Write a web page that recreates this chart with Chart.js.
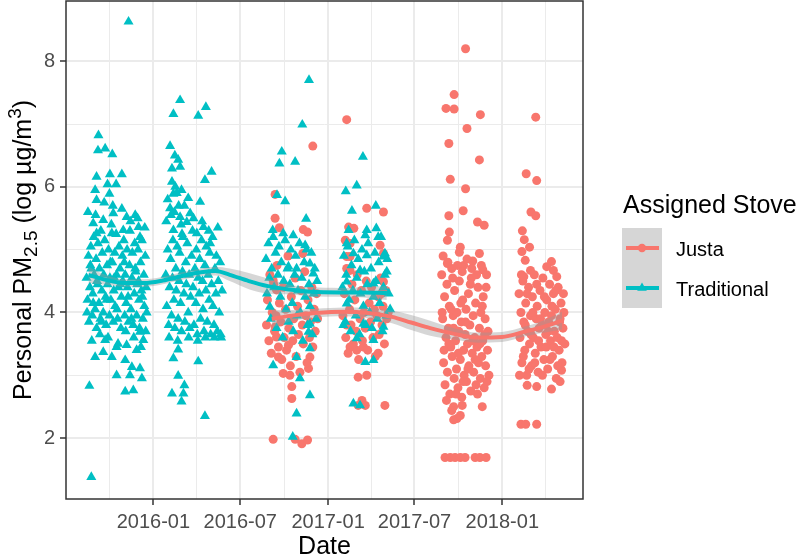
<!DOCTYPE html>
<html>
<head>
<meta charset="utf-8">
<script src="https://cdn.jsdelivr.net/npm/chart.js@4.4.1/dist/chart.umd.min.js"></script>
<style>
body { margin: 0; background: #fff; }
canvas { display: block; }
</style>
</head>
<body>
<canvas id="pmChart" width="800" height="557"></canvas>
<script>
// x values are days since 2016-01-01, y values are log PM2.5
var majorDays = [0, 182, 366, 547, 731];
var majorLabels = ['2016-01', '2016-07', '2017-01', '2017-07', '2018-01'];
var minorDays = [-92, 91, 274, 456, 639, 822];
var majorPM = [2, 4, 6, 8];
var minorPM = [3, 5, 7];

var traditional = [
  // visit 1 (2015)
  [-52,8.63],[-115,6.82],[-116,6.58],[-101,6.61],[-86,6.52],[-119,6.16],[-91,6.20],[-66,6.20],[-96,6.04],[-78,6.04],
  [-122,5.95],[-119,5.79],[-92,5.89],[-84,5.58],[-56,5.52],[-38,5.55],[-126,5.42],[-105,5.47],[-31,5.36],[-63,5.31],
  [-119,5.26],[-87,5.26],[-28,5.20],[-101,3.56],[-122,3.29],[-105,3.37],[-87,3.29],[-77,3.45],[-56,3.48],[-59,3.24],
  [-28,3.69],[-21,3.56],[-35,3.40],[-45,3.13],[-28,3.11],[-77,3.00],[-49,3.00],[-24,2.95],[-59,2.74],[-42,2.76],
  [-134,2.83],[-130,1.38],
  [-140,4.55],[-138,4.2],[-136,4.9],[-135,3.85],[-133,4.4],[-131,5.05],[-130,4.7],[-128,3.95],[-127,4.3],[-125,5.2],
  [-124,4.6],[-122,4.05],[-120,4.85],[-119,3.75],[-117,4.45],[-116,5.1],[-114,4.15],[-113,4.7],[-111,3.9],[-110,5.3],
  [-108,4.35],[-107,4.95],[-105,4.0],[-104,4.6],[-102,5.15],[-100,4.25],[-99,3.8],[-97,4.75],[-96,4.45],[-94,5.0],
  [-92,3.95],[-91,4.55],[-89,4.2],[-88,5.4],[-86,4.8],[-84,3.85],[-83,4.35],[-81,4.95],[-80,4.1],[-78,5.25],
  [-77,4.6],[-75,3.9],[-73,4.4],[-72,5.05],[-70,4.7],[-68,3.75],[-67,4.25],[-65,4.9],[-64,4.5],[-62,5.15],
  [-60,3.95],[-59,4.6],[-57,4.15],[-55,5.0],[-54,4.4],[-52,3.85],[-50,4.75],[-49,5.3],[-47,4.05],[-45,4.55],
  [-44,4.95],[-42,3.8],[-40,4.3],[-39,5.1],[-37,4.65],[-35,3.95],[-34,4.45],[-32,5.0],[-30,4.2],[-29,3.75],
  [-27,4.8],[-25,4.35],[-24,5.15],[-22,3.9],[-20,4.6],[-19,4.1],[-17,4.9],[-15,4.4],
  [-137,5.6],[-129,3.55],[-121,5.55],[-112,3.65],[-103,5.75],[-95,3.6],[-85,5.7],[-74,3.5],[-66,5.65],[-58,3.7],
  [-48,5.45],[-41,3.6],[-33,5.5],[-26,3.45],[-18,5.35],[-16,3.7],
  [-139,4.0],[-132,4.75],[-126,4.15],[-118,4.5],[-109,3.85],[-98,4.2],[-90,4.8],[-82,4.55],[-76,4.05],[-69,4.45],
  [-61,4.8],[-53,4.25],[-46,3.9],[-38,4.7],[-31,4.5],[-23,4.25],[-14,4.0],
  // visit 2 (2016 first half)
  [56,7.38],[42,7.16],[110,7.27],[94,7.13],[35,6.65],[45,6.50],[52,6.43],[56,6.32],[39,6.29],[122,6.24],
  [108,6.11],[39,6.08],[59,5.95],[73,5.82],[98,5.76],[42,5.89],[35,5.66],[56,5.52],[77,5.58],[70,5.44],
  [105,5.36],[42,5.31],[91,5.26],[119,5.10],[52,3.41],[42,3.27],[52,2.99],[65,2.84],[39,2.71],[63,2.71],
  [59,2.58],[94,3.22],[108,2.35],
  [26,4.6],[28,4.1],[30,5.0],[32,3.8],[34,4.4],[36,4.85],[38,3.95],[40,4.55],[41,5.15],[43,4.2],
  [45,3.75],[47,4.7],[48,4.35],[50,5.05],[52,3.9],[54,4.5],[55,4.95],[57,4.15],[59,3.7],[61,4.65],
  [62,5.2],[64,4.3],[66,3.85],[68,4.8],[69,4.45],[71,5.1],[73,4.0],[75,4.6],[76,3.75],[78,4.25],
  [80,4.9],[82,5.3],[83,4.4],[85,3.8],[87,4.7],[89,4.15],[90,5.0],[92,3.65],[94,4.55],[96,4.3],
  [97,4.85],[99,3.9],[101,5.15],[103,4.5],[104,4.05],[106,3.7],[108,4.75],[110,4.35],[111,5.05],[113,3.85],
  [115,4.6],[117,4.2],[118,4.95],[120,3.65],[122,4.45],[124,5.2],[125,4.1],[127,3.8],[129,4.7],[131,4.3],
  [132,4.9],[134,3.7],[136,4.5],[138,4.0],[140,4.8],[142,3.6],[144,4.35],
  [27,5.45],[33,3.6],[44,5.6],[51,3.55],[58,5.4],[65,5.7],[74,3.6],[84,5.5],[93,3.55],[102,5.45],
  [109,3.6],[116,5.3],[128,3.6],[135,5.35],[141,3.65],[30,5.8],[37,5.55],[46,6.0],[53,5.7],[60,5.25],[49,5.9],
  // visit 3 (2016 second half)
  [326,7.70],[312,6.99],[269,6.56],[264,6.37],[297,6.40],[259,5.87],[276,5.77],[250,5.31],[320,5.49],[318,5.07],
  [272,5.26],[293,5.23],[328,4.78],[300,4.70],[283,4.73],[335,4.62],[244,4.09],[328,3.82],[325,3.69],[328,3.43],
  [300,3.29],[251,3.16],[307,2.95],[328,2.68],[300,2.39],[292,2.02],
  [236,4.85],[238,4.3],[241,5.1],[243,4.55],[246,3.9],[248,4.7],[251,5.2],[253,4.4],[256,4.95],[258,3.75],
  [261,4.6],[263,5.05],[266,4.25],[268,4.8],[271,3.6],[273,4.5],[276,5.15],[278,4.05],[281,4.7],[283,3.85],
  [286,4.45],[288,5.0],[291,4.15],[293,3.7],[296,4.6],[298,4.9],[301,3.95],[303,4.35],[306,5.1],[308,4.0],
  [311,4.55],[313,3.55],[316,4.8],[318,4.25],[321,5.0],[323,3.8],[326,4.45],[328,4.1],[331,4.95],[333,3.65],
  [336,4.3],[338,4.7],[341,3.9],[343,4.5],
  // visit 4 (2017 first half)
  [439,6.48],[426,6.02],[403,5.93],[466,5.70],[416,5.62],[447,5.31],[467,5.34],[471,5.20],[409,5.31],[444,5.23],
  [405,5.10],[485,4.94],[419,4.94],[447,4.91],[482,4.89],[433,4.67],[489,4.65],[405,4.49],[461,4.46],[405,4.14],
  [398,3.80],[440,3.82],[482,3.77],[426,3.59],[461,3.56],[444,3.21],[461,3.24],[419,2.55],[433,2.52],
  [396,4.4],[399,4.9],[402,3.85],[404,4.6],[407,5.05],[410,4.2],[413,3.7],[415,4.75],[418,4.35],[421,5.15],
  [424,3.95],[426,4.55],[429,4.85],[432,3.65],[434,4.3],[437,5.0],[440,4.1],[442,4.65],[445,3.8],[448,4.45],
  [450,5.1],[453,4.0],[456,4.7],[458,3.75],[461,4.25],[464,4.95],[466,4.5],[469,3.9],[472,4.8],[474,4.15],
  [477,5.2],[480,3.7],[482,4.4],[485,4.6],[488,3.95],[490,4.85],[493,4.3],[496,4.05]
];

var justa = [
  // visit 3 (2016 second half)
  [334,6.65],[255,5.88],[255,5.50],[264,5.35],[314,5.32],[323,5.28],[313,4.94],[251,4.51],[258,4.36],[255,3.77],
  [258,3.61],[283,3.48],[262,3.29],[272,3.03],[286,3.00],[290,2.82],[290,2.63],[325,3.11],[328,3.29],[251,1.98],
  [297,1.98],[311,1.91],[323,1.97],
  [237,3.8],[239,4.2],[242,3.55],[244,4.6],[247,3.35],[249,4.0],[252,4.45],[254,3.7],[257,3.95],[259,4.75],
  [262,3.45],[264,4.15],[267,3.85],[269,3.25],[272,4.4],[274,3.6],[277,4.05],[279,3.4],[282,4.9],[284,3.75],
  [287,3.15],[289,4.25],[292,3.55],[294,3.9],[297,4.55],[299,3.3],[302,4.1],[304,3.65],[307,3.05],[309,4.35],
  [312,3.8],[314,3.5],[317,4.65],[319,3.95],[322,3.2],[324,4.2],[327,3.6],[329,3.85],[332,4.4],[334,3.45],
  [337,4.05],[339,3.7],[342,4.3],[344,3.9],
  // visit 4 (2017 first half)
  [405,7.07],[447,5.66],[482,5.60],[409,5.36],[420,5.34],[402,5.15],[412,5.10],[475,5.07],[412,4.89],[405,4.89],
  [412,4.67],[482,4.94],[482,4.49],[478,4.30],[405,3.80],[412,3.45],[426,3.40],[440,3.45],[471,3.35],[429,2.97],
  [447,3.00],[437,2.60],[444,2.52],[429,2.52],[485,2.52],
  [397,3.95],[400,4.3],[403,3.6],[405,4.7],[408,3.35],[411,4.05],[414,3.8],[416,4.45],[419,3.5],[422,4.2],
  [425,3.7],[427,4.6],[430,3.25],[433,3.9],[436,4.35],[438,3.55],[441,4.0],[444,3.75],[446,4.5],[449,3.4],
  [452,4.15],[455,3.85],[457,4.4],[460,3.6],[463,4.05],[465,3.3],[468,3.95],[471,4.25],[473,3.65],[476,4.55],
  [479,3.8],[481,4.1],[484,3.5],[487,4.35],[489,3.9],[492,4.0],
  // visit 5 (2017 second half)
  [654,8.20],[630,7.47],[613,7.25],[630,7.24],[685,7.15],[657,6.93],[619,6.69],[683,6.43],[622,6.12],[654,5.97],
  [619,5.54],[649,5.62],[679,5.44],[693,5.39],[620,5.28],[616,5.15],[643,5.04],[641,4.96],[683,4.94],[616,4.78],
  [650,4.75],[669,4.82],[690,4.68],[629,2.50],[647,2.52],[636,2.31],[689,2.50],[629,2.29],[643,2.36],[625,2.44],
  [611,1.69],[622,1.69],[632,1.69],[643,1.69],[653,1.69],[674,1.69],[684,1.69],[697,1.69],
  [604,4.6],[606,3.9],[608,3.2],[610,4.25],[611,2.85],[613,3.6],[615,4.45],[616,3.05],[618,3.75],[620,4.1],
  [621,2.7],[623,3.45],[625,4.7],[626,3.3],[628,3.95],[630,2.95],[631,4.35],[633,3.55],[635,3.1],[636,4.0],
  [638,2.8],[640,3.7],[641,4.5],[643,3.25],[645,3.85],[646,2.65],[648,4.2],[650,3.4],[651,3.0],[653,3.65],
  [655,4.05],[656,2.9],[658,3.5],[660,4.3],[661,3.15],[663,3.8],[665,2.75],[666,4.55],[668,3.35],[670,3.95],
  [671,3.05],[673,3.6],[675,4.15],[676,2.85],[678,3.45],[680,4.4],[681,3.2],[683,3.75],[685,2.95],[686,4.0],
  [688,3.3],[690,3.55],[691,4.25],[693,2.8],[695,3.9],[696,3.15],[698,4.6],[700,3.4],[701,3.7],[703,3.0],
  [605,4.0],[609,3.4],[614,2.6],[619,3.5],[624,4.05],[629,3.75],[634,2.7],[639,3.35],[644,4.15],[649,2.9],
  [654,3.85],[659,3.1],[664,4.45],[669,3.55],[674,3.25],[679,2.7],[684,3.5],[689,4.1],[694,3.65],[699,2.9],
  [607,4.9],[617,4.8],[627,4.55],[637,4.75],[647,4.65],[657,4.85],[667,4.7],[677,4.6],[687,4.75],[697,4.4],
  // visit 6 (2018)
  [801,7.11],[781,6.21],[803,6.10],[791,5.60],[801,5.54],[773,5.30],[777,5.16],[788,5.04],[772,4.97],[779,4.83],
  [790,4.67],[834,4.81],[838,4.67],[824,4.73],[776,4.57],[845,4.57],[783,2.84],[803,2.82],[834,2.78],[852,2.90],
  [855,3.08],[770,2.22],[780,2.22],[803,2.22],
  [766,4.3],[768,3.6],[770,4.0],[772,3.2],[774,4.5],[776,3.85],[778,3.4],[780,4.15],[782,3.0],[784,3.7],
  [786,4.4],[788,3.5],[790,3.95],[792,3.15],[794,4.25],[796,3.6],[798,4.6],[800,3.35],[802,3.9],[804,4.1],
  [806,3.05],[808,3.75],[810,4.35],[812,3.45],[814,3.8],[816,4.55],[818,3.25],[820,4.0],[822,3.65],[824,4.2],
  [826,3.1],[828,3.85],[830,4.45],[832,3.55],[834,3.95],[836,3.3],[838,4.3],[840,3.7],[842,4.05],[844,2.95],
  [846,3.6],[848,4.4],[850,3.4],[852,3.9],[854,4.15],[856,3.2],[858,3.75],[860,4.0],[862,3.5],
  [767,3.0],[771,4.6],[775,3.3],[779,3.8],[783,4.3],[787,3.1],[791,3.65],[795,4.0],[799,3.2],[803,4.45],
  [807,3.55],[811,3.9],[815,3.0],[819,4.25],[823,3.45],[827,3.7],[831,3.25],[835,4.1],[839,3.45],[843,4.35],
  [847,3.15],[851,3.85],[855,3.55],[859,4.3]
];

// loess fits and their standard error band
var tradSmoothDays = [-136, -100, -60, -20, 20, 60, 100, 130, 160, 200, 240, 280, 330, 390, 440, 489];
var tradSmoothFit  = [4.60, 4.52, 4.47, 4.47, 4.51, 4.58, 4.64, 4.66, 4.60, 4.50, 4.42, 4.37, 4.33, 4.32, 4.32, 4.31];
var tradSmoothSE   = [0.13, 0.08, 0.06, 0.06, 0.06, 0.06, 0.06, 0.07, 0.10, 0.13, 0.12, 0.08, 0.07, 0.07, 0.08, 0.11];

var justaSmoothDays = [248, 290, 340, 400, 450, 500, 540, 580, 630, 680, 730, 780, 820, 856];
var justaSmoothFit  = [3.90, 3.95, 3.99, 4.01, 3.99, 3.93, 3.84, 3.75, 3.66, 3.60, 3.61, 3.70, 3.78, 3.87];
var justaSmoothSE   = [0.14, 0.09, 0.07, 0.07, 0.08, 0.10, 0.12, 0.12, 0.09, 0.08, 0.08, 0.08, 0.10, 0.14];

var justaColor = '#F8766D';
var tradColor = '#00BFC4';
var bandColor = 'rgba(153,153,153,0.4)';
var fontFamily = '"Liberation Sans", Arial, Helvetica, sans-serif';

Chart.defaults.font.family = fontFamily;

function pairs(list) {
  return list.map(function (p) { return {x: p[0], y: p[1]}; });
}
function curve(days, fit, se, sign) {
  return days.map(function (d, i) { return {x: d, y: fit[i] + sign * se[i]}; });
}
function lineSet(label, data, extra) {
  var ds = {type: 'line', label: label, data: data, pointRadius: 0, pointHoverRadius: 0,
            cubicInterpolationMode: 'monotone', fill: false, borderWidth: 0};
  for (var k in extra) ds[k] = extra[k];
  return ds;
}

var allXTicks = minorDays.concat(majorDays).sort(function (a, b) { return a - b; });
var allYTicks = minorPM.concat(majorPM).sort(function (a, b) { return a - b; });

function gridWidth(list) {
  return function (c) { return c.tick && list.indexOf(c.tick.value) >= 0 ? 2 : 1; };
}
function tickCol(list) {
  return function (c) { return c.tick && list.indexOf(c.tick.value) >= 0 ? '#333333' : 'rgba(0,0,0,0)'; };
}

// panel border drawn over everything, like theme_bw
var panelBorder = {
  id: 'panelBorder',
  afterDatasetsDraw: function (chart) {
    var a = chart.chartArea, ctx = chart.ctx;
    ctx.save();
    ctx.strokeStyle = '#333333';
    ctx.lineWidth = 1.5;
    ctx.strokeRect(a.left, a.top, a.right - a.left, a.bottom - a.top);
    ctx.restore();
  }
};

// y title with sub and superscripts
var yTitle = {
  id: 'yTitle',
  afterDraw: function (chart) {
    var a = chart.chartArea, ctx = chart.ctx;
    var parts = [
      {t: 'Personal PM', s: 25, dy: 0},
      {t: '2.5', s: 19, dy: 6},
      {t: ' (log \u00b5g/m', s: 25, dy: 0},
      {t: '3', s: 19, dy: -10},
      {t: ')', s: 25, dy: 0}
    ];
    ctx.save();
    var total = 0;
    parts.forEach(function (p) { ctx.font = p.s + 'px ' + fontFamily; p.w = ctx.measureText(p.t).width; total += p.w; });
    ctx.translate(31, (a.top + a.bottom) / 2);
    ctx.rotate(-Math.PI / 2);
    ctx.fillStyle = '#000';
    ctx.textBaseline = 'alphabetic';
    var x = -total / 2;
    parts.forEach(function (p) { ctx.font = p.s + 'px ' + fontFamily; ctx.fillText(p.t, x, p.dy); x += p.w; });
    ctx.restore();
  }
};

var legendTitle = 'Assigned Stove';
var legendBox = {
  id: 'legendBox',
  afterDraw: function (chart) {
    var ctx = chart.ctx;
    var items = [
      {label: 'Justa', color: justaColor, shape: 'circle'},
      {label: 'Traditional', color: tradColor, shape: 'triangle'}
    ];
    ctx.save();
    ctx.fillStyle = '#000';
    ctx.font = '25px ' + fontFamily;
    ctx.fillText(legendTitle, 623, 213);
    items.forEach(function (it, i) {
      var top = 228 + i * 40, cy = top + 20, cx = 642;
      ctx.fillStyle = '#D6D6D6';
      ctx.fillRect(622, top, 40, 40);
      ctx.strokeStyle = it.color;
      ctx.lineWidth = 4;
      ctx.beginPath(); ctx.moveTo(626, cy); ctx.lineTo(659, cy); ctx.stroke();
      ctx.fillStyle = it.color;
      ctx.beginPath();
      if (it.shape === 'circle') {
        ctx.arc(cx, cy, 4.2, 0, Math.PI * 2);
      } else {
        ctx.moveTo(cx, cy - 5.5); ctx.lineTo(cx + 4.8, cy + 2.8); ctx.lineTo(cx - 4.8, cy + 2.8); ctx.closePath();
      }
      ctx.fill();
      ctx.fillStyle = '#000';
      ctx.font = '20px ' + fontFamily;
      ctx.fillText(it.label, 676, top + 28);
    });
    ctx.restore();
  }
};

new Chart(document.getElementById('pmChart'), {
  type: 'scatter',
  data: {
    datasets: [
      {label: 'Justa', data: pairs(justa), pointStyle: 'circle', pointRadius: 4.5, pointHoverRadius: 4.5,
       backgroundColor: justaColor, borderWidth: 0, order: 9},
      {label: 'Traditional', data: pairs(traditional), pointStyle: 'triangle', pointRadius: 5.8, pointHoverRadius: 5.8,
       backgroundColor: tradColor, borderWidth: 0, order: 8},
      lineSet('justaLow', curve(justaSmoothDays, justaSmoothFit, justaSmoothSE, -1), {order: 6}),
      lineSet('justaHigh', curve(justaSmoothDays, justaSmoothFit, justaSmoothSE, 1), {order: 6, fill: '-1', backgroundColor: bandColor}),
      lineSet('justaFit', curve(justaSmoothDays, justaSmoothFit, justaSmoothSE, 0), {order: 5, borderColor: justaColor, borderWidth: 4}),
      lineSet('tradLow', curve(tradSmoothDays, tradSmoothFit, tradSmoothSE, -1), {order: 4}),
      lineSet('tradHigh', curve(tradSmoothDays, tradSmoothFit, tradSmoothSE, 1), {order: 4, fill: '-1', backgroundColor: bandColor}),
      lineSet('tradFit', curve(tradSmoothDays, tradSmoothFit, tradSmoothSE, 0), {order: 3, borderColor: tradColor, borderWidth: 4})
    ]
  },
  options: {
    responsive: false,
    animation: false,
    layout: {autoPadding: false, padding: {left: 0, right: 217, top: 1, bottom: 0}},
    plugins: {legend: {display: false}, tooltip: {enabled: false}},
    scales: {
      x: {
        type: 'linear', min: -183, max: 900,
        afterBuildTicks: function (s) { s.ticks = allXTicks.map(function (v) { return {value: v}; }); },
        afterFit: function (s) { s.height = 58; s.paddingLeft = 0; s.paddingRight = 0; },
        ticks: {
          autoSkip: false, maxRotation: 0, padding: 5, color: '#4D4D4D', font: {size: 20},
          callback: function (v) { var i = majorDays.indexOf(v); return i < 0 ? '' : majorLabels[i]; }
        },
        grid: {color: '#EBEBEB', lineWidth: gridWidth(majorDays), tickLength: 6, tickColor: tickCol(majorDays), tickWidth: 1.5},
        border: {display: false},
        title: {display: true, text: 'Date', color: '#000', font: {size: 25, lineHeight: 0.8}, padding: {top: 0, bottom: 0}}
      },
      y: {
        type: 'linear', min: 1.03, max: 8.96,
        afterBuildTicks: function (s) { s.ticks = allYTicks.map(function (v) { return {value: v}; }); },
        afterFit: function (s) { s.width = 66; s.paddingTop = 0; s.paddingBottom = 0; },
        ticks: {
          padding: 5, color: '#4D4D4D', font: {size: 20},
          callback: function (v) { return majorPM.indexOf(v) < 0 ? '' : String(v); }
        },
        grid: {color: '#EBEBEB', lineWidth: gridWidth(majorPM), tickLength: 6, tickColor: tickCol(majorPM), tickWidth: 1.5},
        border: {display: false}
      }
    }
  },
  plugins: [panelBorder, yTitle, legendBox]
});
</script>
</body>
</html>
